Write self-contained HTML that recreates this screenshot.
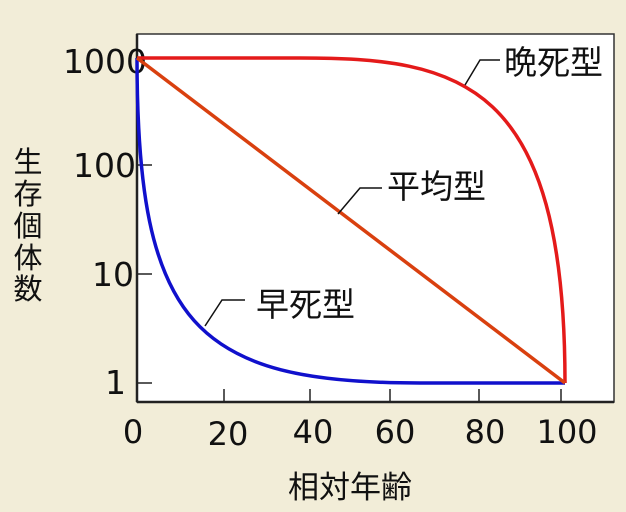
<!DOCTYPE html>
<html><head><meta charset="utf-8"><style>
body{margin:0;background:#f2edd8;}
svg{display:block}
text{font-family:"DejaVu Sans","Noto Sans CJK JP",sans-serif;fill:#111}
</style></head><body>
<svg id="s" width="626" height="512" viewBox="0 0 626 512">
<rect x="0" y="0" width="626" height="512" fill="#f2edd8"/>
<rect x="137" y="34" width="477" height="368" fill="#fff" stroke="#333" stroke-width="1.5"/>
<g stroke="#222" stroke-width="1.5">
<line x1="137" y1="34" x2="137" y2="402" stroke-width="2.5"/>
<line x1="137" y1="402" x2="614" y2="402" stroke-width="2.5"/>
<line x1="137" y1="58" x2="152" y2="58"/>
<line x1="137" y1="165" x2="152" y2="165"/>
<line x1="137" y1="274" x2="152" y2="274"/>
<line x1="137" y1="383" x2="152" y2="383"/>
<line x1="224" y1="389" x2="224" y2="402"/>
<line x1="310" y1="389" x2="310" y2="402"/>
<line x1="390" y1="389" x2="390" y2="402"/>
<line x1="479" y1="389" x2="479" y2="402"/>
<line x1="561" y1="389" x2="561" y2="402"/>
</g>
<g font-size="33" text-anchor="end">
<text x="147" y="73">1000</text>
<text x="136" y="177">100</text>
<text x="134" y="286">10</text>
<text x="126" y="394">1</text>
</g>
<g font-size="32" text-anchor="middle">
<text x="133" y="443">0</text>
<text x="228" y="445">20</text>
<text x="313" y="443">40</text>
<text x="395" y="443">60</text>
<text x="485" y="443">80</text>
<text x="567" y="443">100</text>
</g>
<text x="350" y="498" font-size="31" text-anchor="middle">相対年齢</text>
<g font-size="29" text-anchor="middle">
<text x="28" y="172">生</text><text x="28" y="204">存</text><text x="28" y="236">個</text><text x="28" y="268">体</text><text x="28" y="299">数</text>
</g>
<path d="M137,58 L300,58 C460,58 565,80 565,383" fill="none" stroke="#e41a1a" stroke-width="3.5"/>
<path d="M137,58 C137,325 195,383 420,383 L565,383" fill="none" stroke="#1010cc" stroke-width="3.5"/>
<line x1="137" y1="58" x2="565" y2="383" stroke="#d9400f" stroke-width="3.5"/>
<g stroke="#111" stroke-width="1.5" fill="none">
<polyline points="465,85 480,60 500,60"/>
<polyline points="338,214 360,188 382,188"/>
<polyline points="205,326 222,300 245,300"/>
</g>
<g font-size="33">
<text x="504" y="74">晩死型</text>
<text x="387" y="198">平均型</text>
<text x="256" y="316">早死型</text>
</g>
</svg>
</body></html>
